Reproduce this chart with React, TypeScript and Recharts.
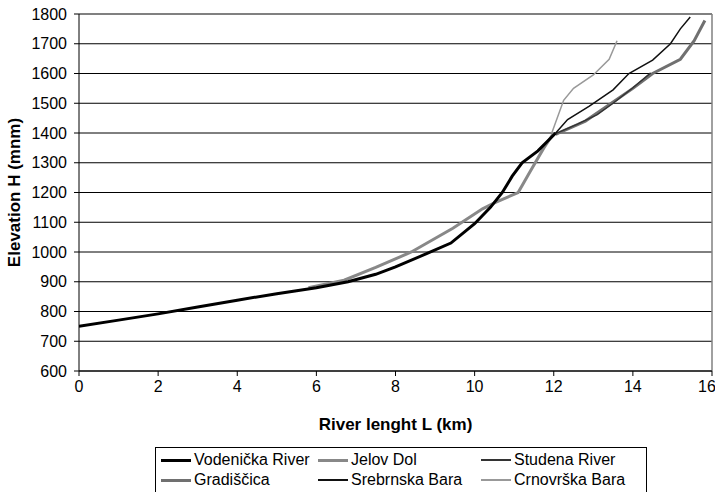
import { LineChart, Line, XAxis, YAxis, CartesianGrid, Legend, ReferenceLine } from 'recharts'

const FONT = '"Liberation Sans", Arial, sans-serif'

const xTicks = [0, 2, 4, 6, 8, 10, 12, 14, 16]
const yTicks = [600, 700, 800, 900, 1000, 1100, 1200, 1300, 1400, 1500, 1600, 1700, 1800]

// river length (km) / elevation (m) per profile
const vodenickaKm = [0, 1, 2, 3, 4, 5, 6, 6.8, 7.5, 8, 8.8, 9.4, 10, 10.4, 10.7, 10.95, 11.2, 11.6, 12.05]
const vodenickaH = [750, 771, 792, 815, 838, 860, 880, 900, 925, 950, 995, 1030, 1095, 1150, 1200, 1255, 1300, 1340, 1400]

const jelovKm = [5.8, 6.7, 7.5, 8.4, 9.45, 10.2, 10.5, 11.1, 11.4, 11.75, 12.0]
const jelovH = [880, 905, 948, 1000, 1080, 1145, 1165, 1200, 1270, 1350, 1400]

const studenaKm = [12.05, 12.6, 13.1, 13.5, 14.0, 14.45]
const studenaH = [1398, 1430, 1462, 1500, 1552, 1602]

const gradiscicaKm = [12.05, 12.2, 12.8, 13.4, 14.0, 14.5, 15.2, 15.55, 15.82]
const gradiscicaH = [1395, 1405, 1440, 1495, 1550, 1600, 1648, 1710, 1778]

const srebrnskaKm = [12.05, 12.35, 12.9, 13.5, 13.9, 14.5, 14.95, 15.2, 15.45]
const srebrnskaH = [1400, 1445, 1490, 1545, 1600, 1645, 1700, 1750, 1790]

const crnovrskaKm = [11.95, 12.25, 12.5, 13.0, 13.4, 13.6]
const crnovrskaH = [1400, 1510, 1550, 1595, 1648, 1710]

const zip = (km: number[], h: number[]) => km.map((k, i) => ({ km: k, h: h[i] }))

const series = [
  { name: 'Vodenička River', data: zip(vodenickaKm, vodenickaH), color: '#000000', width: 3 },
  { name: 'Jelov Dol', data: zip(jelovKm, jelovH), color: '#888888', width: 3 },
  { name: 'Studena River', data: zip(studenaKm, studenaH), color: '#333333', width: 1.5 },
  { name: 'Gradiščica', data: zip(gradiscicaKm, gradiscicaH), color: '#707070', width: 3 },
  { name: 'Srebrnska Bara', data: zip(srebrnskaKm, srebrnskaH), color: '#111111', width: 1.5 },
  { name: 'Crnovrška Bara', data: zip(crnovrskaKm, crnovrskaH), color: '#999999', width: 1.5 },
]

// draw order: gray first, dark thin on top
const drawOrder = [1, 3, 5, 0, 2, 4]

const colX = [0, 157, 320]

function LegendBox() {
  return (
    <div
      style={{
        position: 'relative', width: 492, height: 50, boxSizing: 'border-box',
        border: '1px solid #000', background: '#fff', fontFamily: FONT, fontSize: 16, color: '#000',
      }}
    >
      {series.map((s, i) => {
        const row = Math.floor(i / 3)
        const col = i % 3
        return (
          <div
            key={s.name}
            style={{
              position: 'absolute', left: colX[col] + 5, top: 2 + row * 20, height: 20,
              display: 'flex', alignItems: 'center', whiteSpace: 'nowrap',
            }}
          >
            <span style={{ display: 'inline-block', width: 30, height: s.width, background: s.color, marginRight: 3 }} />
            <span>{s.name}</span>
          </div>
        )
      })}
    </div>
  )
}

export default function App() {
  return (
    <div style={{ position: 'fixed', left: 0, top: 0, width: 715, height: 492, background: '#fff', overflow: 'hidden' }}>
      <LineChart width={715} height={492} margin={{ top: 14, right: 3, bottom: 0, left: 0 }}>
        <CartesianGrid horizontal vertical={false} stroke="#000" strokeWidth={1} />
        <XAxis
          type="number"
          dataKey="km"
          domain={[0, 16]}
          ticks={xTicks}
          allowDataOverflow
          height={76}
          tickSize={5}
          tickMargin={5}
          stroke="#000"
          tick={{ fill: '#000', fontSize: 16, fontFamily: FONT }}
          label={{
            value: 'River lenght L (km)', position: 'insideBottom', offset: 17,
            style: { fill: '#000', fontSize: 17, fontWeight: 'bold', fontFamily: FONT },
          }}
        />
        <YAxis
          type="number"
          domain={[600, 1800]}
          ticks={yTicks}
          allowDataOverflow
          width={79}
          tickSize={5}
          tickMargin={7}
          stroke="#000"
          tick={{ fill: '#000', fontSize: 16, fontFamily: FONT }}
          label={{
            value: 'Elevation H (mnm)', angle: -90, position: 'insideLeft', offset: 14,
            style: { textAnchor: 'middle', fill: '#000', fontSize: 17, fontWeight: 'bold', fontFamily: FONT },
          }}
        />
        <ReferenceLine x={16} stroke="#808080" strokeWidth={1.5} />
        <ReferenceLine y={1800} stroke="#808080" strokeWidth={1.5} />
        {drawOrder.map((i) => {
          const s = series[i]
          return (
            <Line
              key={s.name}
              data={s.data}
              dataKey="h"
              name={s.name}
              type="linear"
              stroke={s.color}
              strokeWidth={s.width}
              dot={false}
              activeDot={false}
              isAnimationActive={false}
            />
          )
        })}
        <Legend
          verticalAlign="bottom"
          content={() => <LegendBox />}
          wrapperStyle={{ left: 155, width: 492, height: 45, bottom: 'auto', top: 447 }}
        />
      </LineChart>
    </div>
  )
}
